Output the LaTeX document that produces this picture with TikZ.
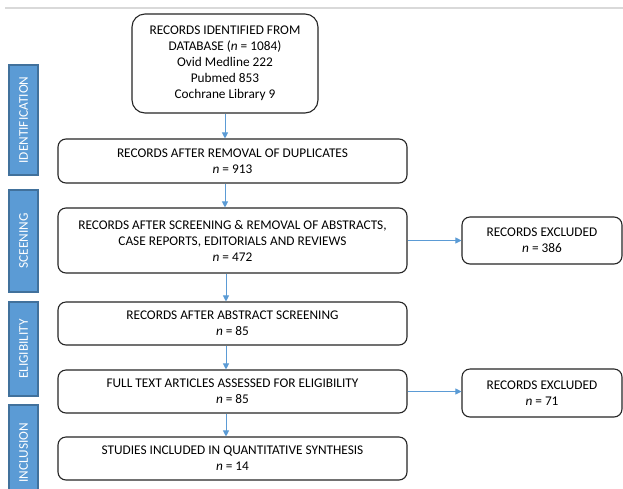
\documentclass[tikz,border=0pt]{standalone}
\usepackage{fontspec}
\setmainfont{Carlito}
\usetikzlibrary{arrows.meta}
\definecolor{barblue}{HTML}{5B9BD5}
\definecolor{bardark}{HTML}{41719C}
\definecolor{arrowblue}{HTML}{5B9BD5}
\definecolor{rulegray}{HTML}{D9D9D9}

\begin{document}
\begin{tikzpicture}[x=1pt,y=-1pt,
  font=\fontsize{13.3}{16}\selectfont,
  box/.style={draw=black!85,line width=1.1pt,rounded corners=8pt,align=center,inner sep=0pt},
  stage/.style={draw=bardark,fill=barblue,line width=1.2pt,text=white,rotate=90,inner sep=0pt,minimum height=29pt},
  flow/.style={draw=arrowblue,line width=0.9pt,-{Triangle[length=6pt,width=6pt]}}]
\clip (0,0) rectangle (623,488);
\fill[white] (0,0) rectangle (623,488);
\draw[rulegray,line width=1.2pt] (5,8) -- (623,8);

% stage bars on the left
\foreach \name/\txt/\top/\bot in {idf/IDENTIFICATION/65/175,scr/SCEENING/190/292,elg/ELIGIBILITY/302/396,inc/INCLUSION/405/500}
\node[stage,minimum width=\bot-\top] (bar\name) at (23.5,{(\top+\bot)/2}) {\txt};

% records
\node[box,rounded corners=13pt,minimum width=186pt,minimum height=99pt] (recdb) at (225,63.5)
  {RECORDS IDENTIFIED FROM\\DATABASE (\textit{n} = 1084)\\Ovid Medline 222\\Pubmed 853\\Cochrane Library 9};
\node[box,minimum width=349pt,minimum height=44pt] (recdup) at (232.5,161)
  {RECORDS AFTER REMOVAL OF DUPLICATES\\\textit{n} = 913};
\node[box,minimum width=349pt,minimum height=65pt] (recscr) at (232.5,240.5)
  {RECORDS AFTER SCREENING \& REMOVAL OF ABSTRACTS,\\CASE REPORTS, EDITORIALS AND REVIEWS\\\textit{n} = 472};
\node[box,minimum width=349pt,minimum height=43pt] (recabs) at (232.5,323.5)
  {RECORDS AFTER ABSTRACT SCREENING\\\textit{n} = 85};
\node[box,minimum width=349pt,minimum height=43pt] (recfull) at (232.5,391.5)
  {FULL TEXT ARTICLES ASSESSED FOR ELIGIBILITY\\\textit{n} = 85};
\node[box,minimum width=349pt,minimum height=43pt] (recincl) at (232.5,458.5)
  {STUDIES INCLUDED IN QUANTITATIVE SYNTHESIS\\\textit{n} = 14};

% excluded
\node[box,minimum width=160pt,minimum height=47pt] (exscr) at (542,240.5)
  {RECORDS EXCLUDED\\\textit{n} = 386};
\node[box,minimum width=160pt,minimum height=48pt] (exfull) at (542,393)
  {RECORDS EXCLUDED\\\textit{n} = 71};

\draw[flow] (recdb.south) -- (recdb.south |- recdup.north);
\draw[flow] (recdb.south |- recdup.south) -- (recdb.south |- recscr.north);
\draw[flow] ([xshift=1pt]recdb.south |- recscr.south) -- ([xshift=1pt]recdb.south |- recabs.north);
\draw[flow] ([xshift=1pt]recdb.south |- recabs.south) -- ([xshift=1pt]recdb.south |- recfull.north);
\draw[flow] ([xshift=1pt]recdb.south |- recfull.south) -- ([xshift=1pt]recdb.south |- recincl.north);
\draw[flow] (recscr.east) -- (exscr.west);
\draw[flow] (recfull.east) -- (recfull.east -| exfull.west);
\end{tikzpicture}
\end{document}
